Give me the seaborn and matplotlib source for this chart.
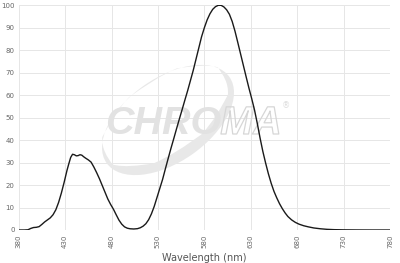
import matplotlib
matplotlib.use("Agg")
import matplotlib.pyplot as plt
import seaborn as sns
import pandas as pd
import numpy as np
from matplotlib.patches import Ellipse, PathPatch
from matplotlib.path import Path
from matplotlib.transforms import IdentityTransform
import matplotlib.patheffects as pe
from matplotlib import font_manager as fm

wavelength = [380, 386, 390, 393, 396, 399, 402, 405, 408, 411, 414, 417, 420, 423, 426, 429,
              432, 434, 436, 438, 440, 442, 444, 446, 448, 450, 452, 455, 458, 461, 464, 467,
              470, 473, 476, 479, 482, 485, 488, 491, 494, 497, 500, 504, 508, 511, 514, 517,
              520, 523, 526, 529, 532, 535, 538, 541, 544, 547, 550, 553, 556, 559, 562, 565,
              568, 571, 574, 577, 580, 583, 586, 589, 592, 595, 598, 601, 604, 607, 610, 613,
              616, 619, 622, 625, 628, 631, 634, 637, 640, 643, 646, 649, 652, 655, 658, 661,
              664, 667, 670, 674, 678, 682, 687, 692, 698, 705, 712, 720, 730, 745, 760, 780]
transmission = [0, 0, 0.1, 0.7, 1.1, 1.2, 1.5, 2.5, 3.6, 4.5, 5.4, 6.8, 9.0, 12.3, 16.5, 21.3,
                26.5, 29.5, 32.3, 33.7, 33.5, 33.0, 33.1, 33.5, 33.3, 32.6, 32.0, 31.2, 30.2, 28.0, 25.5, 22.8,
                19.8, 16.8, 13.8, 11.4, 9.3, 6.8, 4.4, 2.6, 1.4, 0.8, 0.55, 0.45, 0.6, 1.0, 1.7, 2.8,
                4.6, 7.2, 10.5, 14.5, 18.5, 22.5, 27.2, 31.8, 36.3, 40.6, 45.0, 49.3, 53.5, 57.8, 62.0, 66.5,
                71.0, 76.0, 81.0, 86.0, 90.0, 93.5, 96.2, 98.2, 99.4, 100, 100, 99.3, 98.0, 96.0, 92.8, 88.5,
                83.5, 78.4, 73.3, 68.2, 63.2, 58.5, 53.5, 47.5, 41.0, 35.0, 29.8, 25.0, 20.8, 17.2, 14.3, 11.7,
                9.5, 7.6, 6.0, 4.5, 3.4, 2.6, 1.9, 1.4, 0.9, 0.55, 0.3, 0.15, 0.07, 0.02, 0, 0]
x_ticks = [380, 430, 480, 530, 580, 630, 680, 730, 780]
y_ticks = [0, 10, 20, 30, 40, 50, 60, 70, 80, 90, 100]

df = pd.DataFrame({"Wavelength (nm)": wavelength, "T": transmission})

sns.set_style("white")
W, H = 400, 263
fig = plt.figure(figsize=(W / 100, H / 100), dpi=100)
ax = fig.add_axes([18.7 / W, (H - 230) / H, (390 - 18.7) / W, (230 - 5.3) / H])
ax.set_axisbelow(True)

# pick an installed bold italic sans family for the watermark
wm_family = "DejaVu Sans"
for fam in ["Liberation Sans", "Roboto", "Lato", "Open Sans", "Noto Sans", "Inter", "DejaVu Sans"]:
    if any(f.name == fam and f.style in ("italic", "oblique") and
           (f.weight in ("bold", "heavy", "black") or (isinstance(f.weight, int) and f.weight >= 600))
           for f in fm.fontManager.ttflist):
        wm_family = fam
        break

# --- watermark (display-pixel coordinates, y measured from bottom) ---
idt = IdentityTransform()


def ell_verts(cx, cy, w, h, ang):
    e = Ellipse((cx, cy), w, h, angle=ang)
    p = e.get_path()
    return e.get_patch_transform().transform(p.vertices), p.codes


ov, oc = ell_verts(168, H - 120, 150, 84, 35)
n = np.array([-np.sin(np.radians(35)), np.cos(np.radians(35))])
iv, ic = ell_verts(168 + 5 * n[0], H - 120 + 5 * n[1], 142, 72, 35)
verts = np.concatenate([ov, iv[::-1]])
codes = np.concatenate([oc, ic])
swoosh = PathPatch(Path(verts, codes), transform=idt, facecolor="#e8e8e8",
                   edgecolor="none", zorder=0.6)
ax.add_patch(swoosh)

wm_kw = dict(transform=idt, family=wm_family, fontweight="bold", fontstyle="italic",
             ha="left", va="baseline", zorder=0.7)
t1 = ax.text(105, H - 134, "CHRO", fontsize=31, color="#e2e2e2", **wm_kw)
fig.canvas.draw()
r = fig.canvas.get_renderer()
bb = t1.get_window_extent(renderer=r)
fs = 31 * 116 / bb.width
t1.set_fontsize(fs)
bb = t1.get_window_extent(renderer=r)
t2 = ax.text(bb.x1 - 1, H - 134, "MA", fontsize=fs, color="none",
             path_effects=[pe.Stroke(linewidth=0.9, foreground="#d6d6d6")], **wm_kw)
bb2 = t2.get_window_extent(renderer=r)
ax.text(bb2.x1 + 4, H - 106, "®", transform=idt, fontsize=6, color="#dddddd", ha="center",
        va="center", zorder=0.7)

sns.lineplot(data=df, x="Wavelength (nm)", y="T", ax=ax, color="#1a1a1a", lw=1.0, zorder=3)

ax.set_xlim(380, 780)
ax.set_ylim(0, 100)
ax.set_xticks(x_ticks)
ax.set_yticks(y_ticks)
ax.set_xticklabels([str(v) for v in x_ticks], rotation=90, fontsize=5, color="#666666")
ax.set_yticklabels([str(v) for v in y_ticks], fontsize=5, color="#666666")
ax.tick_params(axis="both", length=0, pad=3)
ax.grid(True, color="#e6e6e6", lw=0.7)
for s in ax.spines.values():
    s.set_visible(False)
ax.set_ylabel("")
ax.set_xlabel("Wavelength (nm)", fontsize=7, color="#555555", labelpad=4)

fig.savefig("out.png", dpi=100)
